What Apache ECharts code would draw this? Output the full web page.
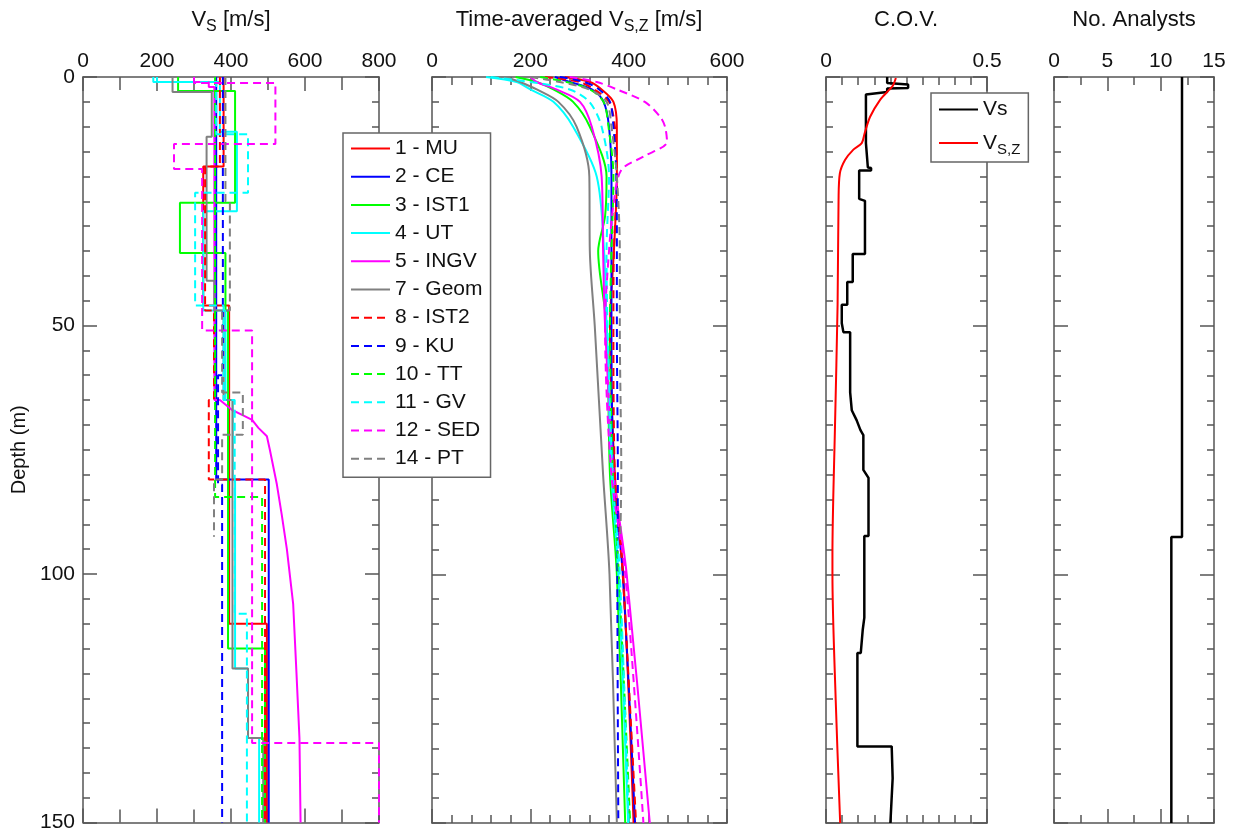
<!DOCTYPE html>
<html>
<head>
<meta charset="utf-8">
<script src="https://cdn.jsdelivr.net/npm/echarts@6/dist/echarts.min.js"></script>
<style>
  html, body { margin: 0; padding: 0; background: #fff; }
  #chart { width: 1238px; height: 833px; }
</style>
</head>
<body>
<div id="chart"></div>
<script>
const FONT = '"Liberation Sans", Arial, sans-serif';
const AXIS_COLOR = '#555';
const TEXT_COLOR = '#111';
const DEPTH_MAX = 150;

// ---- Vs profiles: [top of layer (m), Vs (m/s)]; a layer runs down to the next top ----
const vsMU   = [[0, 380], [18, 325], [46, 395], [110, 497]];
const vsCE   = [[0, 360], [81, 502]];
const vsIST1 = [[0, 257], [2.8, 411], [25.3, 262], [35.4, 385], [47, 392], [115, 492]];
const vsUT   = [[0, 200], [1, 370], [11, 416], [27, 325], [47, 385], [65, 405], [81, 411], [119, 446], [133, 476]];
const vsGeom = [[0, 242], [3, 348], [12, 334], [41, 355], [47, 380], [65, 404], [119, 446], [133, 487]];
const vsIST2 = [[0, 370], [18, 330], [47, 354], [65, 340], [81, 492]];
const vsKU   = [[0, 378], [60, 365], [82, 376]];
const vsTT   = [[0, 357], [84.5, 484]];
const vsGV   = [[0, 190], [1, 360], [11.5, 446], [23.3, 303], [46, 380], [65, 410], [108, 443]];
const vsSED  = [[0, 300], [1.2, 520], [13.5, 246], [18.5, 322], [51, 457], [134, 800]];
const vsPT   = [[0, 385], [25, 397], [47, 376], [63.5, 432], [72, 376], [81, 354]];
const bottomPT = 92.5;
// gradient profile given point by point: [depth (m), Vs (m/s)]
const vsINGV = [[0, 300], [1, 300], [1, 340], [2, 340], [2, 355], [65, 355], [65, 370], [67, 403], [68, 430],
  [69, 457], [70.6, 474], [72.3, 497], [75, 505], [82, 524], [88, 537], [95, 551], [106, 568], [120, 577],
  [133, 585], [150, 588]];

// ---- time-averaged Vs,z: [depth (m), Vs,z (m/s)] ----
const vszMU   = [[0, 270], [1, 321], [2.5, 345], [5, 369], [10, 376], [20, 376], [35, 370], [50, 362], [80, 372], [100, 389], [150, 410]];
const vszCE   = [[0, 250], [1, 280], [2.5, 325], [5, 349], [10, 360], [20, 365], [35, 365], [50, 365], [80, 370], [100, 388], [150, 413]];
const vszIST1 = [[0, 170], [1, 213], [2.5, 247], [5, 287], [10, 321], [20, 355], [28, 352], [35, 338], [50, 355], [80, 362], [100, 376], [150, 393]];
const vszUT   = [[0, 110], [1, 172], [2.5, 200], [5, 247], [10, 287], [20, 335], [35, 350], [50, 355], [80, 365], [100, 379], [150, 399]];
const vszINGV = [[0, 200], [1, 213], [2.5, 253], [5, 301], [10, 325], [20, 345], [35, 348], [50, 352], [80, 370], [100, 396], [150, 443]];
const vszGeom = [[0, 150], [1, 179], [2.5, 213], [5, 257], [10, 294], [20, 320], [35, 321], [50, 331], [80, 348], [100, 361], [150, 376]];
const vszIST2 = [[0, 230], [1, 300], [2.5, 330], [5, 360], [10, 372], [20, 376], [35, 370], [50, 369], [80, 372], [100, 388], [150, 415]];
const vszKU   = [[0, 260], [1, 310], [2.5, 340], [5, 362], [10, 369], [20, 375], [35, 376], [50, 376], [80, 378], [100, 377], [150, 379]];
const vszTT   = [[0, 220], [1, 274], [2.5, 321], [5, 349], [10, 359], [20, 369], [35, 365], [50, 362], [80, 368], [100, 380], [150, 403]];
const vszGV   = [[0, 120], [1, 200], [2.5, 280], [5, 320], [10, 345], [20, 360], [35, 355], [50, 357], [80, 367], [100, 382], [150, 400]];
const vszSED  = [[0, 280], [1, 335], [2.5, 376], [5, 433], [8, 464], [10, 474], [13, 478], [16, 430], [18.7, 385], [25, 370], [35, 360], [50, 352], [80, 365], [100, 393], [150, 430]];
const vszPT   = [[0, 200], [1, 260], [2.5, 320], [5, 355], [10, 365], [20, 376], [35, 382], [50, 382], [80, 385], [92.5, 383]];

// ---- C.O.V. with depth: [depth (m), C.O.V.] ----
const covVs = [[0, 0.19], [1.2, 0.19], [1.5, 0.255], [2.2, 0.255], [2.3, 0.19], [3.0, 0.19], [3.5, 0.124], [13.3, 0.124],
  [13.3, 0.13], [18.2, 0.13], [18.3, 0.14], [18.8, 0.14], [18.8, 0.103], [24.5, 0.103], [24.9, 0.121], [35.6, 0.121],
  [35.6, 0.083], [41.2, 0.083], [41.2, 0.066], [45.8, 0.066], [45.8, 0.049], [49.5, 0.049], [49.5, 0.054], [51.3, 0.054],
  [51.3, 0.075], [63.4, 0.075], [63.4, 0.08], [67, 0.08], [69, 0.095], [71, 0.107], [72, 0.116], [79, 0.116],
  [80.6, 0.132], [92.3, 0.132], [92.3, 0.119], [108.7, 0.119], [108.7, 0.114], [111.2, 0.114], [111.2, 0.108],
  [115.8, 0.108], [115.8, 0.0975], [134.6, 0.0975], [134.6, 0.204], [141, 0.207], [150, 0.2]];
const covVsz = [[0.2, 0.217], [1.7, 0.208], [2.6, 0.196], [4.6, 0.168], [8, 0.137], [11.3, 0.12], [13.3, 0.111],
  [14.6, 0.085], [16.7, 0.059], [19.4, 0.043], [24.7, 0.039], [45.8, 0.036], [70, 0.028], [96, 0.02], [100, 0.02],
  [125, 0.03], [150, 0.044]];

// ---- number of analysts with depth: [top of interval (m), count] ----
const nAnalysts = [[0, 12], [92.5, 11]];

const RED = '#ff0000', BLUE = '#0000ff', GREEN = '#00ff00', CYAN = '#00ffff', MAGENTA = '#ff00ff', GRAY = '#808080';

function steps(layers, bottom) {
  const pts = [];
  layers.forEach((l, i) => {
    const next = i + 1 < layers.length ? layers[i + 1][0] : bottom;
    pts.push([l[1], l[0]], [l[1], next]);
  });
  return pts;
}
const asXY = pts => pts.map(p => [p[1], p[0]]);

const analysts = [
  { name: '1 - MU',   color: RED,     dashed: false, vs: steps(vsMU, DEPTH_MAX),   vsz: vszMU },
  { name: '2 - CE',   color: BLUE,    dashed: false, vs: steps(vsCE, DEPTH_MAX),   vsz: vszCE },
  { name: '3 - IST1', color: GREEN,   dashed: false, vs: steps(vsIST1, DEPTH_MAX), vsz: vszIST1 },
  { name: '4 - UT',   color: CYAN,    dashed: false, vs: steps(vsUT, DEPTH_MAX),   vsz: vszUT },
  { name: '5 - INGV', color: MAGENTA, dashed: false, vs: asXY(vsINGV),             vsz: vszINGV },
  { name: '7 - Geom', color: GRAY,    dashed: false, vs: steps(vsGeom, DEPTH_MAX), vsz: vszGeom },
  { name: '8 - IST2', color: RED,     dashed: true,  vs: steps(vsIST2, DEPTH_MAX), vsz: vszIST2 },
  { name: '9 - KU',   color: BLUE,    dashed: true,  vs: steps(vsKU, DEPTH_MAX),   vsz: vszKU },
  { name: '10 - TT',  color: GREEN,   dashed: true,  vs: steps(vsTT, DEPTH_MAX),   vsz: vszTT },
  { name: '11 - GV',  color: CYAN,    dashed: true,  vs: steps(vsGV, DEPTH_MAX),   vsz: vszGV },
  { name: '12 - SED', color: MAGENTA, dashed: true,  vs: steps(vsSED, DEPTH_MAX),  vsz: vszSED },
  { name: '14 - PT',  color: GRAY,    dashed: true,  vs: steps(vsPT, bottomPT),    vsz: vszPT }
];

// panel frames: left edge, width, x range, x tick interval, minor split
const panels = [
  { left: 83,   width: 296, min: 0, max: 800, interval: 200, minor: 2,  minorLen: 13 },
  { left: 432,  width: 295, min: 0, max: 600, interval: 200, minor: 5,  minorLen: 8 },
  { left: 826,  width: 161, min: 0, max: 0.5, interval: 0.5, minor: 10, minorLen: 8 },
  { left: 1054, width: 160, min: 0, max: 15,  interval: 5,   minor: 2,  minorLen: 8 }
];
const GRID_TOP = 77, GRID_HEIGHT = 746;

const lineStyleAxis = { color: AXIS_COLOR, width: 1.5 };
const grids = [], xAxes = [], yAxes = [];
panels.forEach((p, gi) => {
  grids.push({ left: p.left, top: GRID_TOP, width: p.width, height: GRID_HEIGHT, containLabel: false });
  ['top', 'bottom'].forEach(pos => {
    xAxes.push({
      gridIndex: gi, type: 'value', position: pos, min: p.min, max: p.max, interval: p.interval,
      axisLine: { show: true, onZero: false, lineStyle: lineStyleAxis },
      axisTick: { show: true, inside: true, length: 14, lineStyle: lineStyleAxis },
      minorTick: { show: true, splitNumber: p.minor, length: p.minorLen, lineStyle: lineStyleAxis },
      axisLabel: { show: pos === 'top', margin: 5, fontSize: 21, fontFamily: FONT, color: TEXT_COLOR,
        formatter: v => String(v) },
      splitLine: { show: false }, minorSplitLine: { show: false }
    });
  });
  ['left', 'right'].forEach(pos => {
    const labelled = gi === 0 && pos === 'left';
    yAxes.push({
      gridIndex: gi, type: 'value', position: pos, inverse: true, min: 0, max: DEPTH_MAX, interval: 50,
      name: labelled ? 'Depth (m)' : '', nameLocation: 'middle', nameGap: 54,
      nameTextStyle: { fontSize: 20, fontFamily: FONT, color: TEXT_COLOR },
      axisLine: { show: true, onZero: false, lineStyle: lineStyleAxis },
      axisTick: { show: true, inside: true, length: 14, lineStyle: lineStyleAxis },
      minorTick: { show: true, splitNumber: 10, length: 7, lineStyle: lineStyleAxis },
      axisLabel: { show: labelled, margin: 8, fontSize: 21, fontFamily: FONT, color: TEXT_COLOR },
      splitLine: { show: false }, minorSplitLine: { show: false }
    });
  });
});

const series = [];
analysts.forEach(a => {
  const ls = { color: a.color, width: 2, type: a.dashed ? [8, 5] : 'solid' };
  series.push({ name: a.name, type: 'line', xAxisIndex: 0, yAxisIndex: 0, data: a.vs,
    symbol: 'none', lineStyle: ls, itemStyle: { color: a.color }, silent: true });
});
analysts.forEach(a => {
  const ls = { color: a.color, width: 2, type: a.dashed ? [8, 5] : 'solid' };
  series.push({ name: a.name, type: 'line', xAxisIndex: 2, yAxisIndex: 2, data: asXY(a.vsz),
    smooth: 0.3, symbol: 'none', lineStyle: ls, itemStyle: { color: a.color }, silent: true });
});
series.push({ name: 'Vs', type: 'line', xAxisIndex: 4, yAxisIndex: 4, data: asXY(covVs),
  symbol: 'none', lineStyle: { color: '#000', width: 2.5 }, itemStyle: { color: '#000' }, silent: true });
series.push({ name: 'Vs,z', type: 'line', xAxisIndex: 4, yAxisIndex: 4, data: asXY(covVsz),
  smooth: 0.3, symbol: 'none', lineStyle: { color: RED, width: 2 }, itemStyle: { color: RED }, silent: true });
series.push({ name: 'No. Analysts', type: 'line', xAxisIndex: 6, yAxisIndex: 6, data: steps(nAnalysts, DEPTH_MAX),
  symbol: 'none', lineStyle: { color: '#000', width: 2.5 }, itemStyle: { color: '#000' }, silent: true });

const subRich = {
  a: { fontSize: 22, fontFamily: FONT, color: TEXT_COLOR, lineHeight: 24 },
  s: { fontSize: 16, fontFamily: FONT, color: TEXT_COLOR, lineHeight: 16, padding: [14, 0, 0, 0] }
};
const legRich = {
  a: { fontSize: 21, fontFamily: FONT, color: TEXT_COLOR, lineHeight: 22 },
  s: { fontSize: 15, fontFamily: FONT, color: TEXT_COLOR, lineHeight: 16, padding: [13, 0, 0, 0] }
};

function titleText(x, text) {
  return { type: 'text', x: x, y: 8, z: 10,
    style: { text: text, rich: subRich, align: 'center', verticalAlign: 'top', fill: TEXT_COLOR } };
}

const option = {
  animation: false,
  backgroundColor: '#fff',
  textStyle: { fontFamily: FONT },
  grid: grids,
  xAxis: xAxes,
  yAxis: yAxes,
  legend: [
    {
      data: analysts.map(a => a.name), orient: 'vertical', left: 343, top: 133,
      padding: [5, 8, 8, 7], itemWidth: 39, itemHeight: 14, itemGap: 7.2,
      borderColor: '#666', borderWidth: 1.5, backgroundColor: '#fff',
      itemStyle: { opacity: 0 },
      textStyle: { fontSize: 21, fontFamily: FONT, color: TEXT_COLOR, lineHeight: 20 },
      selectedMode: false
    },
    {
      data: ['Vs', 'Vs,z'], orient: 'vertical', left: 931, top: 93,
      padding: [6, 8, 5, 7], itemWidth: 39, itemHeight: 14, itemGap: 9,
      borderColor: '#666', borderWidth: 1.5, backgroundColor: '#fff',
      itemStyle: { opacity: 0 },
      formatter: n => n === 'Vs' ? '{a|Vs}' : '{a|V}{s|S,Z}',
      textStyle: { fontSize: 21, fontFamily: FONT, color: TEXT_COLOR, rich: legRich },
      selectedMode: false
    }
  ],
  graphic: [
    titleText(231, '{a|V}{s|S}{a| [m/s]}'),
    titleText(579, '{a|Time-averaged V}{s|S,Z}{a| [m/s]}'),
    titleText(906, '{a|C.O.V.}'),
    titleText(1134, '{a|No. Analysts}')
  ],
  series: series
};

const chart = echarts.init(document.getElementById('chart'), null, { renderer: 'canvas' });
chart.setOption(option);
</script>
</body>
</html>
